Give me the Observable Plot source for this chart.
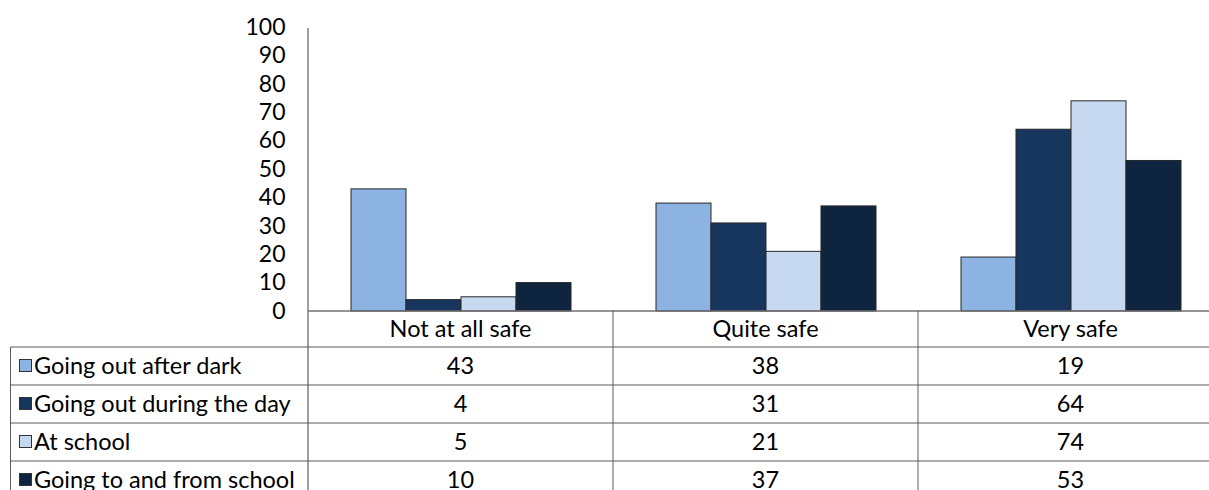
<!DOCTYPE html>
<html><head><meta charset="utf-8">
<script src="https://cdn.jsdelivr.net/npm/d3@7"></script>
<script src="https://cdn.jsdelivr.net/npm/@observablehq/plot@0.6"></script>
<style>
html,body{margin:0;padding:0;background:#fff;overflow:hidden;}
#chart{width:1209px;height:490px;overflow:hidden;position:relative;}
</style></head><body><div id="chart"></div>
<script>
const categories = ["Not at all safe", "Quite safe", "Very safe"];
const series = ["Going out after dark", "Going out during the day", "At school", "Going to and from school"];
const afterDark = [43, 38, 19];
const duringDay = [4, 31, 64];
const atSchool = [5, 21, 74];
const toFromSchool = [10, 37, 53];
const yTicks = [0, 10, 20, 30, 40, 50, 60, 70, 80, 90, 100];
const colors = ["#8DB3E2", "#17365D", "#C6D9F0", "#0F243E"];

const values = [afterDark, duringDay, atSchool, toFromSchool];
const data = series.flatMap((s, i) => categories.map((c, j) => ({series: s, category: c, value: values[i][j]})));
const FONT = "Lato, 'Open Sans', sans-serif";
const FS = 23.5;

const chart = Plot.plot({
  width: 1223, height: 490,
  marginLeft: 308, marginRight: 0, marginTop: 27, marginBottom: 179,
  style: {fontFamily: FONT, fontSize: FS + "px", maxWidth: "none", background: "#fff", color: "#000"},
  fx: {domain: categories, padding: 0, axis: null, label: null},
  x: {domain: series, paddingInner: 0, paddingOuter: 0.75, axis: null, label: null},
  y: {domain: [0, 100], axis: null, label: null},
  color: {domain: series, range: colors},
  marks: [
    Plot.barY(data, {fx: "category", x: "series", y: "value", fill: "series", stroke: "#262626", strokeWidth: 1}),
    Plot.axisY({ticks: yTicks, tickSize: 0, tickPadding: 23, fontSize: 23, label: null, fill: "#000"})
  ]
});
document.getElementById("chart").appendChild(chart);

// Data table drawn below the plot from Plot's own scales
const fx = chart.scale("fx");
const y = chart.scale("y");
const svg = d3.select(chart);
const g = svg.append("g").attr("font-family", FONT).attr("font-size", FS).attr("text-anchor", "start");
const y0 = y.apply(0);
const yTop = y.apply(100);
const left = fx.apply(categories[0]);
const bw = fx.bandwidth;
const right = fx.apply(categories[categories.length - 1]) + bw;
const headerH = 36, rowH = 38;
const tableBottom = 490;
const borderX = 10.5;
const lineColor = "#5a5a5a";

// axis line and baseline
g.append("line").attr("x1", left).attr("x2", left).attr("y1", yTop + 1).attr("y2", tableBottom)
  .attr("stroke", "#808080").attr("stroke-width", 1.5);
g.append("line").attr("x1", left).attr("x2", right).attr("y1", y0).attr("y2", y0)
  .attr("stroke", "#707070").attr("stroke-width", 1.5);
// row lines
series.forEach((s, i) => {
  const yy = y0 + headerH + i * rowH;
  g.append("line").attr("x1", borderX).attr("x2", right).attr("y1", yy).attr("y2", yy)
    .attr("stroke", lineColor).attr("stroke-width", 1);
});
// vertical lines
g.append("line").attr("x1", borderX).attr("x2", borderX).attr("y1", y0 + headerH).attr("y2", tableBottom)
  .attr("stroke", lineColor).attr("stroke-width", 1);
categories.slice(1).forEach(c => {
  const xx = fx.apply(c);
  g.append("line").attr("x1", xx).attr("x2", xx).attr("y1", y0).attr("y2", tableBottom)
    .attr("stroke", lineColor).attr("stroke-width", 1);
});
// header labels
categories.forEach(c => {
  g.append("text").attr("x", fx.apply(c) + bw / 2).attr("y", y0 + headerH / 2)
    .attr("dy", "0.35em").attr("text-anchor", "middle").attr("fill", "#000").text(c);
});
// rows
series.forEach((s, i) => {
  const cy = y0 + headerH + i * rowH + rowH / 2;
  g.append("rect").attr("x", 19.5).attr("y", cy - 6.5).attr("width", 12).attr("height", 12)
    .attr("fill", colors[i]).attr("stroke", "#333").attr("stroke-width", 1);
  g.append("text").attr("x", 34).attr("y", cy).attr("dy", "0.35em").attr("text-anchor", "start")
    .attr("fill", "#000").text(s);
  categories.forEach((c, j) => {
    g.append("text").attr("x", fx.apply(c) + bw / 2).attr("y", cy).attr("dy", "0.35em")
      .attr("text-anchor", "middle").attr("fill", "#000").text(values[i][j]);
  });
});
</script></body></html>
